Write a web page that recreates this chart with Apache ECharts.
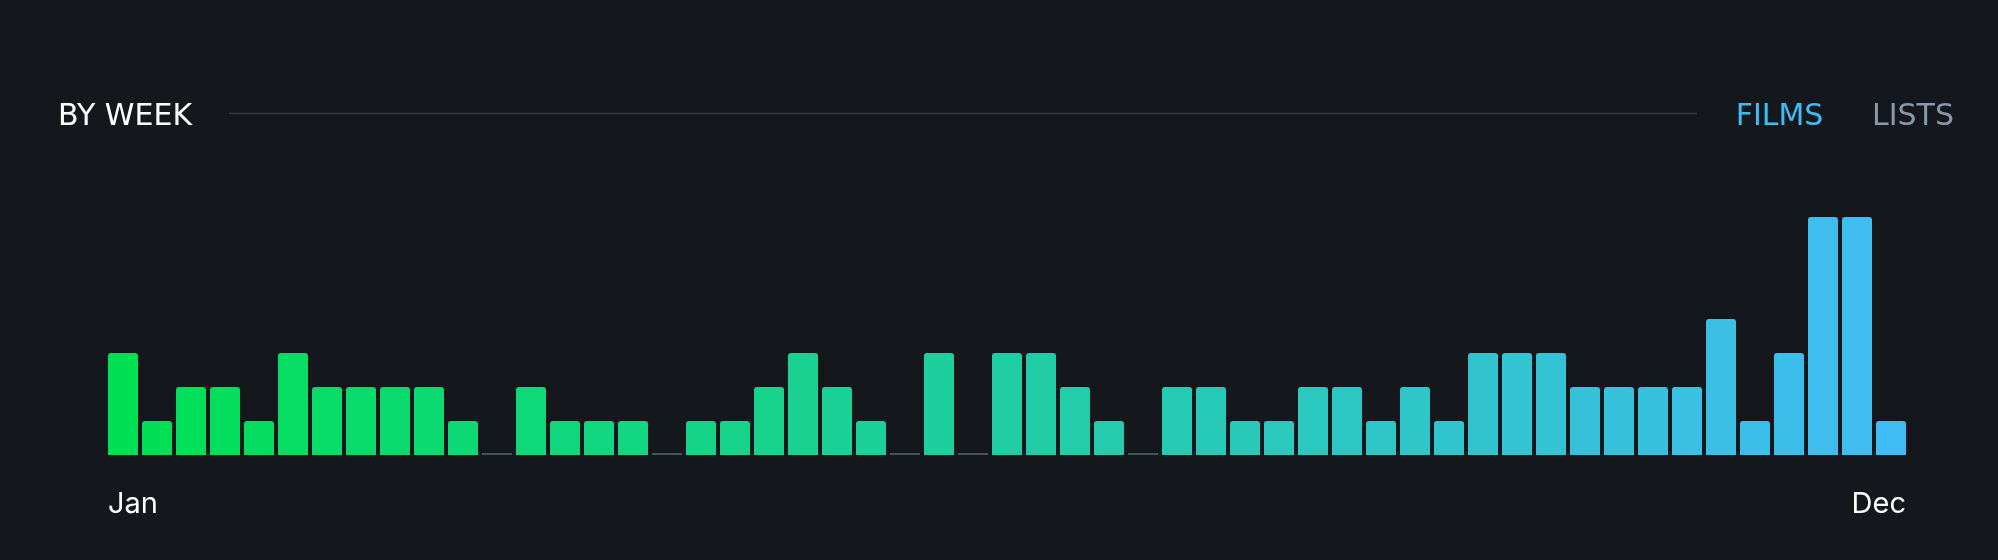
<!DOCTYPE html>
<html><head><meta charset="utf-8">
<script src="https://cdn.jsdelivr.net/npm/echarts@6/dist/echarts.min.js"></script>
<style>html,body{margin:0;padding:0;background:#14181c;overflow:hidden;} #c{width:1998px;height:560px;}</style>
</head><body><div id="c"></div>
<script>
const weeks = [1,2,3,4,5,6,7,8,9,10,11,12,13,14,15,16,17,18,19,20,21,22,23,24,25,26,27,28,29,30,31,32,33,34,35,36,37,38,39,40,41,42,43,44,45,46,47,48,49,50,51,52,53];
const filmsPerWeek = [3,1,2,2,1,3,2,2,2,2,1,0,2,1,1,1,0,1,1,2,3,2,1,0,3,0,3,3,2,1,0,2,2,1,1,2,2,1,2,1,3,3,3,2,2,2,2,4,1,3,7,7,1];
const edgeLabels = ['Jan', 'Dec'];
const sectionTitle = 'BY WEEK';
const tabLabels = ['FILMS', 'LISTS'];

const startColor = [0x00, 0xe0, 0x54];
const endColor = [0x40, 0xbc, 0xf4];
function mix(t) {
  const c = startColor.map((s, k) => Math.round(s + (endColor[k] - s) * t));
  return 'rgb(' + c.join(',') + ')';
}
const n = filmsPerWeek.length;

const chart = echarts.init(document.getElementById('c'), null, {renderer: 'canvas'});
const BAR_W = 30;
chart.setOption({
  backgroundColor: '#14181c',
  animation: false,
  grid: {left: 106, right: 90, top: 217, bottom: 105},
  xAxis: {
    type: 'category',
    data: weeks,
    boundaryGap: true,
    axisLine: {show: false},
    axisTick: {show: false},
    axisLabel: {show: false},
    splitLine: {show: false}
  },
  yAxis: {
    type: 'value',
    min: 0,
    max: 7,
    show: false,
    splitLine: {show: false}
  },
  series: [
    {
      type: 'bar',
      barWidth: BAR_W,
      data: filmsPerWeek.map((v, i) => ({
        value: v,
        itemStyle: {color: mix(i / (n - 1))}
      })),
      itemStyle: {borderRadius: [3, 3, 0, 0]}
    },
    {
      type: 'bar',
      barWidth: BAR_W,
      barGap: '-100%',
      barMinHeight: 2,
      data: filmsPerWeek.map(v => (v === 0 ? 0 : '-')),
      itemStyle: {color: '#445566'}
    }
  ]
});

const firstCenter = chart.convertToPixel({xAxisIndex: 0}, 0);
const lastCenter = chart.convertToPixel({xAxisIndex: 0}, n - 1);
const head = {fontFamily: 'DejaVu Sans', fontSize: 30, verticalAlign: 'middle'};
const axisFont = {fontFamily: 'Inter', fontSize: 29, verticalAlign: 'middle'};
chart.setOption({
  graphic: [
    {type: 'text', x: 58, y: 117.5, style: Object.assign({text: sectionTitle, fill: '#ffffff', align: 'left'}, head)},
    {type: 'line', shape: {x1: 229, y1: 113.5, x2: 1697, y2: 113.5}, style: {stroke: '#333b47', lineWidth: 1.6}},
    {type: 'text', x: 1779.5, y: 117.5, style: Object.assign({text: tabLabels[0], fill: '#40bcf4', align: 'center'}, head)},
    {type: 'text', x: 1913, y: 117.5, style: Object.assign({text: tabLabels[1], fill: '#8899aa', align: 'center'}, head)},
    {type: 'text', x: firstCenter - BAR_W / 2, y: 504, style: Object.assign({text: edgeLabels[0], fill: '#ffffff', align: 'left'}, axisFont)},
    {type: 'text', x: lastCenter + BAR_W / 2, y: 504, style: Object.assign({text: edgeLabels[1], fill: '#ffffff', align: 'right'}, axisFont)}
  ]
});
</script>
</body></html>
